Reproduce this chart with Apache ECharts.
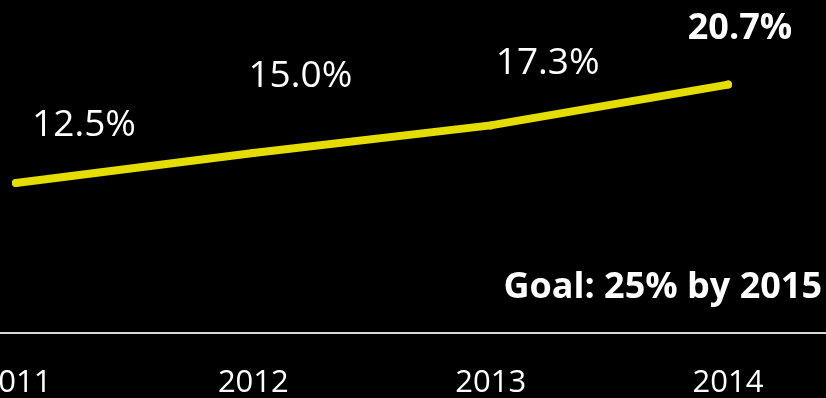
<!DOCTYPE html>
<html>
<head>
<meta charset="utf-8">
<script src="https://cdn.jsdelivr.net/npm/echarts@6/dist/echarts.min.js"></script>
<style>html,body{margin:0;padding:0;background:#000;}#c{width:826px;height:398px;}</style>
</head>
<body>
<div id="c"></div>
<script>
var years = [2011, 2012, 2013, 2014];
var shares = [12.5, 15.0, 17.3, 20.7];
var labelTexts = ['12.5%', '15.0%', '17.3%', '20.7%'];
var goalText = 'Goal: 25% by 2015';

// label placement styles (not data)
var labelOffsets = [[68, -58], [47, -77], [57, -62], [12, -56]];
var labelBold = [false, false, false, true];

var FONT = '"Open Sans", "Noto Sans", sans-serif';

var seriesData = years.map(function (y, i) {
  return {
    value: [y, shares[i]],
    label: {
      show: true,
      position: 'inside',
      offset: labelOffsets[i],
      formatter: labelTexts[i],
      color: '#ffffff',
      fontFamily: FONT,
      fontSize: labelBold[i] ? 36 : 37,
      fontWeight: labelBold[i] ? 'bold' : 'normal'
    }
  };
});

var chart = echarts.init(document.getElementById('c'), null, {renderer: 'canvas'});
chart.setOption({
  backgroundColor: '#000000',
  animation: false,
  title: {
    text: goalText,
    right: 4,
    top: 270,
    padding: 0,
    textStyle: {color: '#ffffff', fontFamily: FONT, fontSize: 36, fontWeight: 'bold'}
  },
  grid: {left: 0, right: 0, top: 33, bottom: 65, containLabel: false, outerBoundsMode: 'none'},
  xAxis: {
    type: 'value',
    min: 2010.9326,
    max: 2014.4129,
    splitLine: {show: false},
    axisTick: {show: false},
    axisLine: {show: true, lineStyle: {color: '#d9d9d9', width: 2}},
    axisLabel: {
      customValues: years,
      formatter: function (v) { return String(v); },
      color: '#ffffff',
      fontFamily: FONT,
      fontSize: 31,
      margin: 50,
      verticalAlign: 'middle',
      hideOverlap: false
    }
  },
  yAxis: {
    type: 'value',
    min: 0,
    max: 25,
    show: false,
    splitLine: {show: false}
  },
  series: [{
    type: 'line',
    data: seriesData,
    symbol: 'circle',
    symbolSize: 8,
    showSymbol: true,
    itemStyle: {color: '#e5dc00'},
    lineStyle: {color: '#e5dc00', width: 8, cap: 'round', join: 'round'},
    emphasis: {disabled: true}
  }]
});
</script>
</body>
</html>
